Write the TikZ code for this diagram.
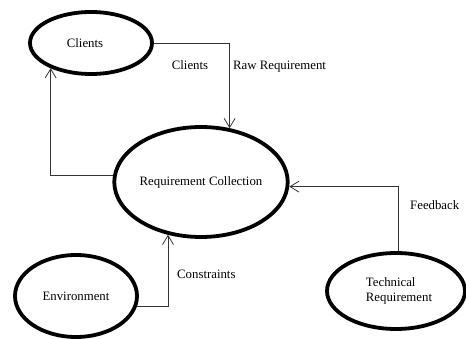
\documentclass[tikz,border=0pt]{standalone}
\usepackage{fontspec}
\setmainfont{Liberation Serif}
\usetikzlibrary{shapes.geometric,arrows.meta}
\begin{document}
\begin{tikzpicture}[x=1pt,y=-1pt,
  ell/.style={ellipse,draw=black,line width=3.8pt,inner sep=0pt,font=\fontsize{12.8}{15}\selectfont},
  conn/.style={draw=black!80,line width=0.8pt,-{Straight Barb[length=9pt,width=11pt,line width=0.8pt]}},
  lbl/.style={font=\fontsize{12.8}{15}\selectfont,inner sep=0pt}]
\useasboundingbox (0,0) rectangle (466,339);
\node[ell,minimum width=122pt,minimum height=62pt] (cl) at (91,43) {\hspace*{-12pt}Clients};
\node[ell,minimum width=166pt,minimum height=110pt] (rc) at (201,182) {Requirement Collection};
\node[ell,minimum width=122pt,minimum height=82pt] (env) at (76,296) {Environment};
\node[ell,minimum width=138pt,minimum height=76pt,align=left] (tr) at (396,291) {\hspace*{6pt}Technical\\\hspace*{6pt}Requirement};
\draw[conn] (cl.east) -| (rc.62);
\draw[conn] (rc.176) -| (cl.212);
\draw[conn] (env.-10) -| (rc.238);
\draw[conn] (tr.86) |- (rc.-3);
\node[lbl] (l1) at (190,65) {Clients};
\node[lbl,anchor=west] (l2) at (233,67) {Raw Requirement};
\node[lbl,anchor=west] (l3) at (177,274) {Constraints};
\node[lbl,anchor=west] (l4) at (410,205) {Feedback};
\end{tikzpicture}
\end{document}
